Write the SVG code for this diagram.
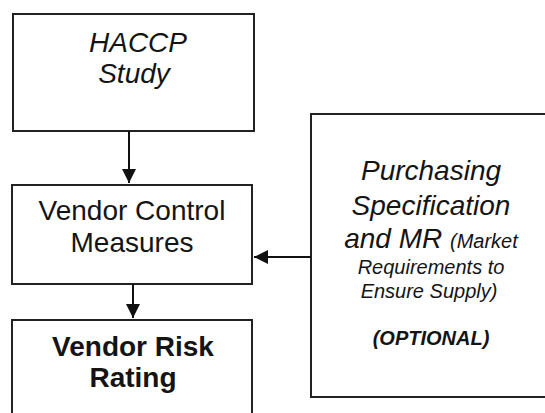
<svg xmlns="http://www.w3.org/2000/svg" width="545" height="413" viewBox="0 0 545 413">
  <style>
    .box { fill: #ffffff; stroke: #222222; stroke-width: 2; }
    .lbl { font-family: "Liberation Sans", Arial, sans-serif; fill: #141414; text-anchor: middle; }
    .it { font-style: italic; }
    .bd { font-weight: bold; }
    .edge { stroke: #111111; stroke-width: 2; fill: none; }
  </style>
  <defs>
    <marker id="arrow" viewBox="0 0 10 10" refX="10" refY="5" markerWidth="7" markerHeight="7" markerUnits="strokeWidth" orient="auto">
      <path d="M0,0 L10,5 L0,10 z" fill="#111111"/>
    </marker>
  </defs>
  <rect width="545" height="413" fill="#ffffff"/>

  <g id="haccp-study">
    <rect class="box" x="13" y="14" width="241" height="117"/>
    <text class="lbl it" x="138" y="52" font-size="28">HACCP</text>
    <text class="lbl it" x="134" y="83" font-size="28">Study</text>
  </g>

  <g id="vendor-control-measures">
    <rect class="box" x="12" y="185" width="240" height="99"/>
    <text class="lbl" x="132" y="220" font-size="28">Vendor Control</text>
    <text class="lbl" x="132" y="252" font-size="28">Measures</text>
  </g>

  <g id="vendor-risk-rating">
    <rect class="box" x="12" y="320" width="240" height="110"/>
    <text class="lbl bd" x="133" y="356" font-size="28">Vendor Risk</text>
    <text class="lbl bd" x="133" y="387" font-size="28">Rating</text>
  </g>

  <g id="purchasing-specification">
    <rect class="box" x="311" y="114" width="250" height="283"/>
    <text class="lbl it" x="431" y="180" font-size="28">Purchasing</text>
    <text class="lbl it" x="431" y="215" font-size="28">Specification</text>
    <text class="lbl it" x="431" y="248"><tspan font-size="28">and MR </tspan><tspan font-size="20">(Market</tspan></text>
    <text class="lbl it" x="431" y="274" font-size="20">Requirements to</text>
    <text class="lbl it" x="429" y="298" font-size="20">Ensure Supply)</text>
    <text class="lbl it bd" x="431" y="345" font-size="20">(OPTIONAL)</text>
  </g>

  <g id="connectors">
    <line class="edge" x1="129" y1="131" x2="129" y2="183" marker-end="url(#arrow)"/>
    <line class="edge" x1="133" y1="284" x2="133" y2="318" marker-end="url(#arrow)"/>
    <line class="edge" x1="311" y1="257" x2="254" y2="257" marker-end="url(#arrow)"/>
  </g>
</svg>
